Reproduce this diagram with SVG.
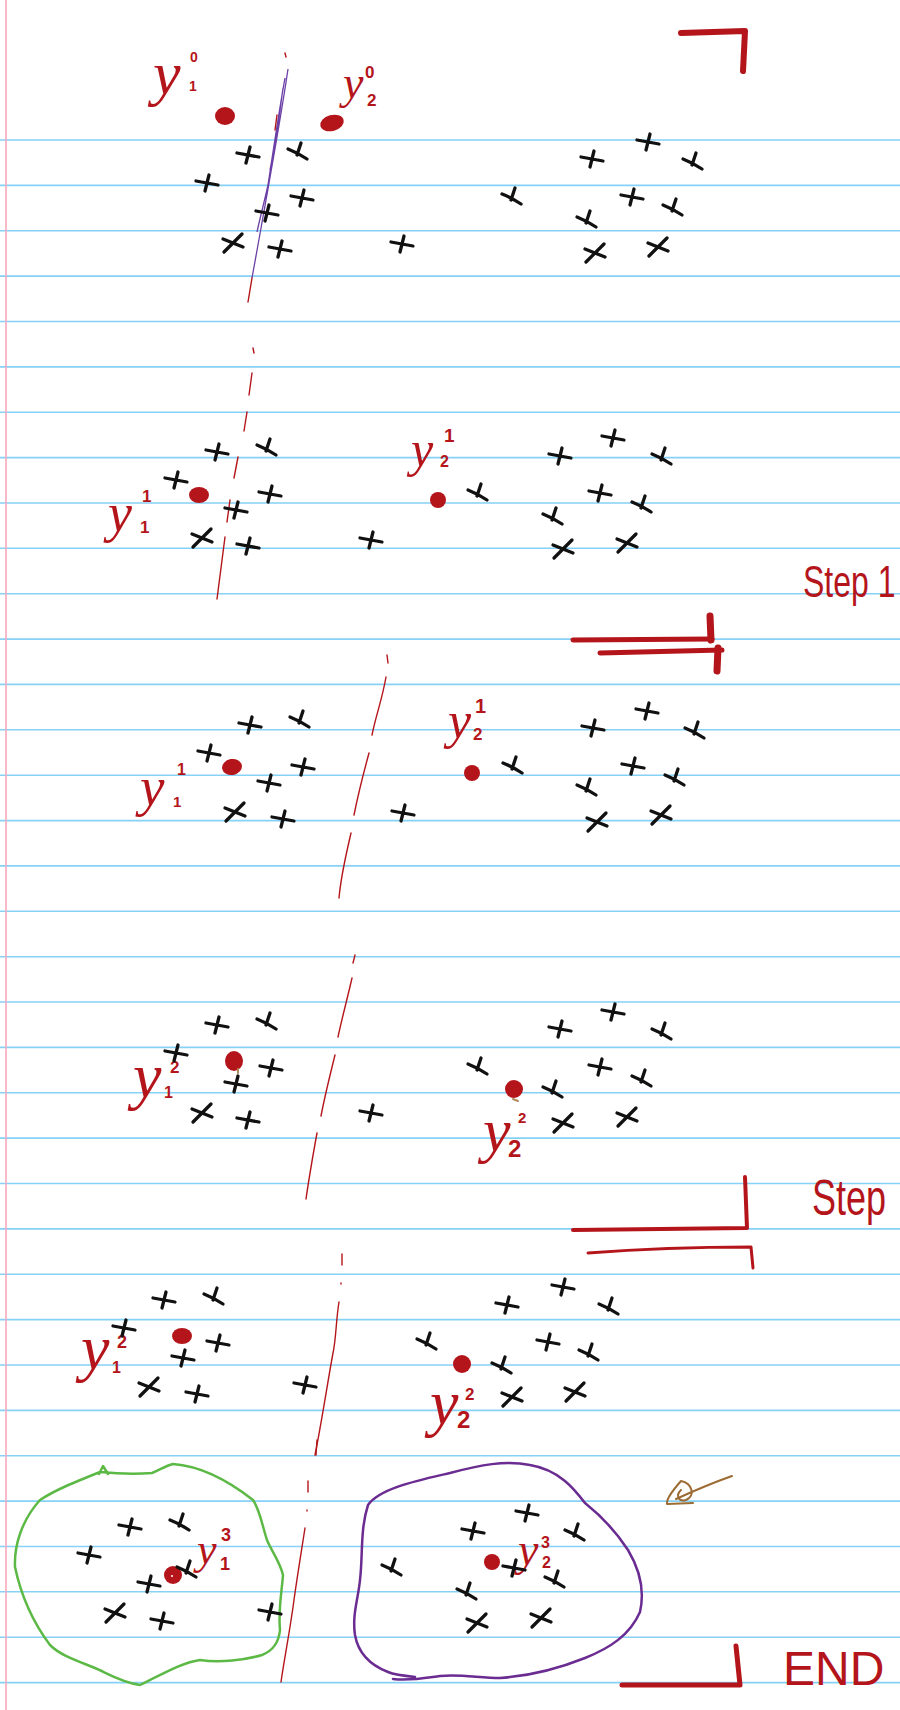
<svg xmlns="http://www.w3.org/2000/svg" xmlns:xlink="http://www.w3.org/1999/xlink" width="900" height="1710" viewBox="0 0 900 1710">
<style>
.ln{stroke:#86d1f6;stroke-width:1.6;fill:none}
.xm{fill:none;stroke:#111;stroke-width:3.3;stroke-linecap:round;stroke-linejoin:round}
.rd{fill:#b4151b}
.lab{font-family:"Liberation Serif",serif;font-style:italic;fill:#b4151b}
.sm{font-family:"Liberation Sans",sans-serif;fill:#b4151b;font-weight:bold}
.hw{font-family:"Liberation Sans",sans-serif;fill:#b4151b}
.dash{fill:none;stroke:#b4151b;stroke-width:1.4;stroke-linecap:round}
.br{fill:none;stroke:#b4151b;stroke-linecap:round;stroke-linejoin:round}
</style>
<defs>
<path id="c1" class="xm" d="M-11,-2 Q0,0 11,2 M2,-8 Q0,0 -2,8"/>
<path id="c2" class="xm" d="M-10,-4 Q0,0 10,4 M-9,9 Q0,0 9,-9"/>
<path id="c3" class="xm" d="M-10,-3 Q0,1 9,7 M3,-9 Q1,-3 -1,3"/>
</defs>
<rect width="900" height="1710" fill="#fff"/>
<g id="paper">
<path class="ln" d="M0,140H900M0,185.4H900M0,230.7H900M0,276.1H900M0,321.5H900M0,366.9H900M0,412.2H900M0,457.6H900M0,503H900M0,548.3H900M0,593.7H900M0,639.1H900M0,684.4H900M0,729.8H900M0,775.2H900M0,820.6H900M0,865.9H900M0,911.3H900M0,956.7H900M0,1002H900M0,1047.4H900M0,1092.8H900M0,1138.1H900M0,1183.5H900M0,1228.9H900M0,1274.3H900M0,1319.6H900M0,1365H900M0,1410.4H900M0,1455.7H900M0,1501.1H900M0,1546.5H900M0,1591.8H900M0,1637.2H900M0,1682.6H900"/>
<line x1="6" y1="0" x2="6" y2="1710" stroke="#f6a9bd" stroke-width="1.6"/>
</g>

<g id="step0">
<path d="M288,69 C282,110 268,190 252,278 M285,78 C280,105 274,145 268,185 C264,203 260,218 257,232 M283,88 C279,120 274,150 270,170" fill="none" stroke="#6b3fa6" stroke-width="1.3"/>
<path class="dash" d="M252,278 L248,302 M285,53 L286,57 M277,115 L275,130"/>
<ellipse class="rd" cx="225" cy="116" rx="10" ry="9"/>
<ellipse class="rd" cx="332" cy="123" rx="12" ry="8" transform="rotate(-15 332 123)"/>
<text class="lab" x="153" y="94" font-size="62">y</text>
<text class="sm" x="189" y="91" font-size="14">1</text>
<text class="sm" x="190" y="62" font-size="14">0</text>
<text class="lab" x="343" y="98" font-size="46">y</text>
<text class="sm" x="367" y="106" font-size="17">2</text>
<text class="sm" x="365" y="78" font-size="17">0</text>
<use href="#c1" x="248" y="155"/><use href="#c3" x="298" y="152"/><use href="#c1" x="207" y="183"/>
<use href="#c1" x="302" y="198"/><use href="#c1" x="267" y="213"/><use href="#c2" x="233" y="243"/>
<use href="#c1" x="280" y="249"/><use href="#c1" x="402" y="244"/>
<use href="#c1" x="648" y="142"/><use href="#c1" x="592" y="159"/><use href="#c3" x="693" y="162"/>
<use href="#c3" x="512" y="197"/><use href="#c1" x="632" y="197"/><use href="#c3" x="673" y="208"/>
<use href="#c3" x="587" y="220"/><use href="#c2" x="595" y="253"/><use href="#c2" x="658" y="247"/>
<path class="br" stroke-width="6" d="M681,33 L745,31 L743,71"/>
</g>

<g id="step1a">
<path class="dash" d="M253,348 L254,353 M252,373 L249,395 M247,412 L244,431 M238,457 L234,478 M230,500 L227,522 M225,537 L217,599"/>
<ellipse class="rd" cx="199" cy="495" rx="10" ry="8"/>
<circle class="rd" cx="438" cy="500" r="8"/>
<text class="lab" x="108" y="531" font-size="54">y</text>
<text class="sm" x="140" y="533" font-size="17">1</text>
<text class="sm" x="142" y="502" font-size="17">1</text>
<text class="lab" x="411" y="466" font-size="50">y</text>
<text class="sm" x="440" y="467" font-size="16">2</text>
<text class="sm" x="444" y="442" font-size="19">1</text>
<use href="#c1" x="217" y="452"/><use href="#c3" x="267" y="448"/><use href="#c1" x="176" y="480"/>
<use href="#c1" x="270" y="494"/><use href="#c1" x="236" y="510"/><use href="#c2" x="202" y="538"/>
<use href="#c1" x="248" y="546"/><use href="#c1" x="371" y="540"/>
<use href="#c1" x="613" y="438"/><use href="#c1" x="560" y="456"/><use href="#c3" x="662" y="457"/>
<use href="#c3" x="478" y="493"/><use href="#c1" x="600" y="493"/><use href="#c3" x="642" y="505"/>
<use href="#c3" x="553" y="517"/><use href="#c2" x="563" y="549"/><use href="#c2" x="627" y="543"/>
<text class="hw" font-size="32" transform="translate(803 597) scale(1 1.4)">Step 1</text>
</g>

<g id="step1b">
<path class="br" stroke-width="5" d="M573,640 L712,639"/>
<path class="br" stroke-width="7" d="M710,616 L711,640"/>
<path class="br" stroke-width="5" d="M600,653 L722,650"/>
<path class="br" stroke-width="7" d="M718,648 L717,671"/>
<path class="dash" d="M387,655 L388,663 M386,677 C382,700 376,715 372,735 M369,753 C363,775 358,795 354,815 M351,833 C346,855 341,875 339,898"/>
<ellipse class="rd" cx="232" cy="767" rx="10" ry="8" transform="rotate(-10 232 767)"/>
<circle class="rd" cx="472" cy="773" r="8"/>
<text class="lab" x="140" y="805" font-size="55">y</text>
<text class="sm" x="173" y="807" font-size="15">1</text>
<text class="sm" x="177" y="775" font-size="16">1</text>
<text class="lab" x="448" y="738" font-size="52">y</text>
<text class="sm" x="473" y="740" font-size="17">2</text>
<text class="sm" x="475" y="713" font-size="20">1</text>
<use href="#c1" x="250" y="725"/><use href="#c3" x="300" y="720"/><use href="#c1" x="209" y="753"/>
<use href="#c1" x="303" y="767"/><use href="#c1" x="269" y="783"/><use href="#c2" x="235" y="812"/>
<use href="#c1" x="283" y="819"/><use href="#c1" x="403" y="813"/>
<use href="#c1" x="647" y="711"/><use href="#c1" x="593" y="728"/><use href="#c3" x="695" y="731"/>
<use href="#c3" x="513" y="766"/><use href="#c1" x="633" y="766"/><use href="#c3" x="675" y="778"/>
<use href="#c3" x="587" y="788"/><use href="#c2" x="597" y="822"/><use href="#c2" x="661" y="815"/>
</g>

<g id="step2a">
<path class="dash" d="M355,955 L353,963 M352,978 C347,1000 342,1018 338,1037 M335,1055 C330,1075 325,1095 321,1116 M317,1133 C313,1155 309,1178 306,1199"/>
<ellipse class="rd" cx="234" cy="1061" rx="9" ry="10"/>
<path d="M238,1069 L238,1073" stroke="#b08a5a" stroke-width="2" stroke-linecap="round"/>
<circle class="rd" cx="514" cy="1089" r="9"/>
<path d="M513,1099 L518,1101" stroke="#b08a5a" stroke-width="2" stroke-linecap="round"/>
<text class="lab" x="133" y="1097" font-size="64">y</text>
<text class="sm" x="164" y="1098" font-size="16">1</text>
<text class="sm" x="170" y="1073" font-size="17">2</text>
<text class="lab" x="483" y="1151" font-size="62">y</text>
<text class="sm" x="508" y="1157" font-size="24">2</text>
<text class="sm" x="518" y="1123" font-size="15">2</text>
<use href="#c1" x="217" y="1025"/><use href="#c3" x="267" y="1022"/><use href="#c1" x="176" y="1053"/>
<use href="#c1" x="271" y="1068"/><use href="#c1" x="236" y="1084"/><use href="#c2" x="202" y="1113"/>
<use href="#c1" x="248" y="1120"/><use href="#c1" x="371" y="1113"/>
<use href="#c1" x="613" y="1012"/><use href="#c1" x="560" y="1029"/><use href="#c3" x="662" y="1032"/>
<use href="#c3" x="478" y="1067"/><use href="#c1" x="600" y="1067"/><use href="#c3" x="642" y="1079"/>
<use href="#c3" x="553" y="1090"/><use href="#c2" x="563" y="1123"/><use href="#c2" x="627" y="1117"/>
<path class="br" stroke-width="4" d="M573,1230 L747,1228 L745,1177"/>
<path class="br" stroke-width="3" d="M588,1253 C640,1249 700,1247 751,1247 L753,1268"/>
<text class="hw" font-size="36" transform="translate(812 1215) scale(1 1.4)">Step</text>
</g>

<g id="step2b">
<path class="dash" d="M342,1254 L342,1265 M341,1283 L341,1284 M339,1302 C336,1320 336,1340 333,1353 C328,1380 322,1420 315,1455"/>
<ellipse class="rd" cx="182" cy="1336" rx="10" ry="8"/>
<circle class="rd" cx="462" cy="1364" r="9"/>
<text class="lab" x="81" y="1369" font-size="64">y</text>
<text class="sm" x="112" y="1373" font-size="16">1</text>
<text class="sm" x="117" y="1348" font-size="18">2</text>
<text class="lab" x="430" y="1424" font-size="64">y</text>
<text class="sm" x="457" y="1428" font-size="24">2</text>
<text class="sm" x="465" y="1400" font-size="17">2</text>
<use href="#c1" x="164" y="1300"/><use href="#c3" x="214" y="1297"/><use href="#c1" x="124" y="1328"/>
<use href="#c1" x="218" y="1343"/><use href="#c1" x="183" y="1358"/><use href="#c2" x="149" y="1387"/>
<use href="#c1" x="197" y="1394"/><use href="#c1" x="305" y="1385"/>
<use href="#c1" x="563" y="1287"/><use href="#c1" x="507" y="1305"/><use href="#c3" x="609" y="1307"/>
<use href="#c3" x="427" y="1342"/><use href="#c1" x="548" y="1342"/><use href="#c3" x="589" y="1353"/>
<use href="#c3" x="502" y="1366"/><use href="#c2" x="512" y="1397"/><use href="#c2" x="575" y="1392"/>
</g>

<g id="final">
<path d="M100,1472 C120,1474 140,1474 152,1473 C160,1470 165,1466 173,1464 C200,1466 225,1478 253,1500 C260,1510 262,1525 267,1540 C272,1552 280,1562 283,1575 C282,1590 278,1610 280,1630 C279,1640 275,1650 262,1655 C245,1660 220,1663 200,1660 C185,1662 170,1670 140,1685 C120,1682 105,1672 95,1668 C75,1660 60,1655 50,1645 C35,1625 22,1600 15,1567 C14,1545 22,1520 40,1500 C55,1490 75,1482 100,1472 M99,1474 L103,1466 L108,1474" fill="none" stroke="#5cb946" stroke-width="2.5" stroke-linecap="round" stroke-linejoin="round"/>
<path d="M415,1677 C405,1676 395,1675 388,1672 C370,1665 358,1652 355,1635 C352,1615 358,1600 360,1580 C363,1555 360,1530 368,1505 C380,1488 420,1480 450,1473 C480,1465 505,1460 530,1465 C560,1470 575,1490 585,1503 C600,1515 615,1530 628,1550 C640,1570 645,1590 640,1612 C630,1635 610,1648 585,1658 C560,1668 530,1676 500,1678 C480,1678 460,1674 440,1676 C425,1678 410,1681 393,1679" fill="none" stroke="#6a2c91" stroke-width="2.5" stroke-linecap="round" stroke-linejoin="round"/>
<path class="dash" d="M317,1440 L316,1455 M308,1481 L308,1492 M307,1510 L307,1511 M305,1528 C300,1560 296,1585 294,1600 C290,1630 285,1655 281,1682"/>
<circle class="rd" cx="173" cy="1575" r="9"/>
<circle cx="172" cy="1576" r="1" fill="#fff"/>
<circle class="rd" cx="492" cy="1562" r="8"/>
<text class="lab" x="197" y="1564" font-size="44">y</text>
<text class="sm" x="220" y="1570" font-size="18">1</text>
<text class="sm" x="221" y="1541" font-size="18">3</text>
<text class="lab" x="518" y="1565" font-size="46">y</text>
<text class="sm" x="541" y="1548" font-size="16">3</text>
<text class="sm" x="542" y="1568" font-size="16">2</text>
<use href="#c1" x="130" y="1527"/><use href="#c3" x="180" y="1523"/><use href="#c1" x="89" y="1555"/>
<use href="#c3" x="187" y="1570"/><use href="#c1" x="149" y="1584"/><use href="#c2" x="115" y="1613"/>
<use href="#c1" x="162" y="1621"/><use href="#c1" x="270" y="1612"/>
<use href="#c1" x="527" y="1513"/><use href="#c1" x="473" y="1531"/><use href="#c3" x="575" y="1533"/>
<use href="#c3" x="392" y="1568"/><use href="#c1" x="514" y="1568"/><use href="#c3" x="555" y="1580"/>
<use href="#c3" x="467" y="1592"/><use href="#c2" x="477" y="1623"/><use href="#c2" x="541" y="1618"/>
<path d="M732,1476 C715,1482 700,1488 676,1499 M681,1481 C673,1490 666,1499 667,1504 L693,1503 M681,1481 C692,1483 696,1496 686,1500 C679,1502 675,1496 681,1490" fill="none" stroke="#9c6b33" stroke-width="2" stroke-linecap="round" stroke-linejoin="round"/>
<path class="br" stroke-width="5" d="M622,1685 L740,1685 L736,1646"/>
<text class="hw" x="783" y="1685" font-size="48">END</text>
</g>
</svg>
